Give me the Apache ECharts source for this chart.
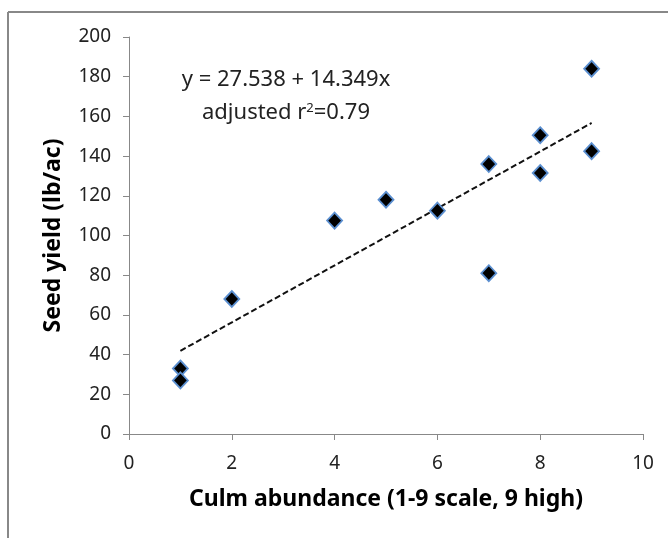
<!DOCTYPE html>
<html><head><meta charset="utf-8">
<script src="https://cdn.jsdelivr.net/npm/echarts@6/dist/echarts.min.js"></script>
<style>html,body{margin:0;padding:0;background:#fff}#c{width:668px;height:538px}</style>
</head><body><div id="c"></div>
<script>
const culmX = [1, 1, 2, 4, 5, 6, 7, 7, 8, 8, 9, 9];
const seedY = [33, 27, 68, 107.5, 118, 112.5, 136, 81, 150.5, 131.5, 184, 142.5];
const trendX = [1, 9];
const trendY = [41.887, 156.679];
const xTicks = [0, 2, 4, 6, 8, 10];
const yTicks = [0, 20, 40, 60, 80, 100, 120, 140, 160, 180, 200];
const eqText = 'y = 27.538 + 14.349x';
const xTitle = 'Culm abundance (1-9 scale, 9 high)';
const yTitle = 'Seed yield (lb/ac)';

const FONT = 'Noto Sans';
const chart = echarts.init(document.getElementById('c'));
chart.setOption({
  animation: false,
  backgroundColor: '#fff',
  grid: { left: 129, right: 25, top: 37, bottom: 104 },
  xAxis: {
    type: 'value', min: xTicks[0], max: xTicks[xTicks.length - 1], interval: 2,
    name: xTitle, nameLocation: 'middle', nameGap: 54,
    nameTextStyle: { fontFamily: FONT, fontWeight: 'bold', fontSize: 23, color: '#000' },
    axisLine: { show: true, onZero: false, lineStyle: { color: '#888', width: 1 } },
    axisTick: { show: true, length: 6, lineStyle: { color: '#888' } },
    axisLabel: { fontFamily: FONT, fontSize: 19, color: '#222', margin: 20 },
    splitLine: { show: false }
  },
  yAxis: {
    type: 'value', min: yTicks[0], max: yTicks[yTicks.length - 1], interval: 20,
    name: yTitle, nameLocation: 'middle', nameGap: 64, nameRotate: 90,
    nameTextStyle: { fontFamily: FONT, fontWeight: 'bold', fontSize: 23, color: '#000' },
    axisLine: { show: true, onZero: false, lineStyle: { color: '#888', width: 1 } },
    axisTick: { show: true, length: 6, lineStyle: { color: '#888' } },
    axisLabel: { fontFamily: FONT, fontSize: 19, color: '#222', margin: 18 },
    splitLine: { show: false }
  },
  series: [
    {
      type: 'line', data: trendX.map((x, i) => [x, trendY[i]]),
      symbol: 'none', lineStyle: { color: '#111', width: 2, type: [6, 3] }, z: 1
    },
    {
      type: 'scatter', data: culmX.map((x, i) => [x, seedY[i]]),
      symbol: 'diamond', symbolSize: [15, 16],
      itemStyle: { color: '#000', opacity: 1, borderColor: '#5b8fd0', borderWidth: 1.8 }, z: 3
    }
  ],
  graphic: [
    { type: 'line', shape: { x1: 8, y1: 12, x2: 668, y2: 12 }, style: { stroke: '#888', lineWidth: 2 } },
    { type: 'line', shape: { x1: 8, y1: 12, x2: 8, y2: 538 }, style: { stroke: '#888', lineWidth: 2 } },
    { type: 'text', x: 286, y: 80, style: { text: eqText, font: '22px ' + FONT, fill: '#222', align: 'center', verticalAlign: 'middle' } },
    { type: 'text', x: 286, y: 113, style: {
        text: 'adjusted r{sup|2}=0.79', align: 'center', verticalAlign: 'middle',
        font: '22px ' + FONT, fill: '#222',
        rich: { sup: { fontSize: 13, fontFamily: FONT, fill: '#222', verticalAlign: 'top', padding: [0, 0, 9, 0] } }
    } }
  ]
});
</script></body></html>
